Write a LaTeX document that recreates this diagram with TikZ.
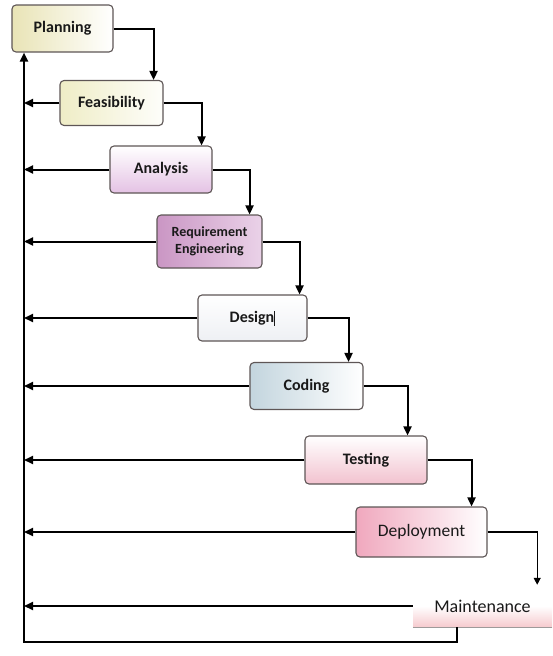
\documentclass[tikz,border=0pt]{standalone}
\usepackage{fontspec}
\setmainfont{Carlito}
\usetikzlibrary{arrows.meta,calc}

\definecolor{boxline}{HTML}{5E5656}
\definecolor{tintplan}{HTML}{E9E4B6}
\definecolor{tintfeas}{HTML}{EFEDC6}
\definecolor{tintanal}{HTML}{E4C2E4}
\definecolor{tintreq}{HTML}{CA96C4}
\definecolor{tintreqlight}{HTML}{EAD2E8}
\definecolor{tintdes}{HTML}{EEF0F4}
\definecolor{tintcod}{HTML}{C3D5DE}
\definecolor{tinttes}{HTML}{F2C2CF}
\definecolor{tintdep}{HTML}{F0A8BE}
\definecolor{tintmai}{HTML}{F6CACE}

\tikzset{
  phase/.style={draw=boxline, line width=1.1pt, rounded corners=4pt,
    inner sep=2pt, align=center, text=black!90,
    font=\fontsize{16}{18}\selectfont\bfseries},
  link/.style={line width=2pt, -{Triangle[length=9pt,width=8pt]}},
  back/.style={line width=2pt, -{Triangle[length=9pt,width=8pt]}},
  thinlink/.style={line width=1.2pt, -{Triangle[length=7pt,width=7pt]}},
}

\begin{document}
\begin{tikzpicture}[x=1pt,y=-1pt]
  \useasboundingbox (0,0) rectangle (552,656);

  % phases of the life cycle
  \node[phase, minimum width=101pt, minimum height=47pt,
        left color=tintplan, right color=white] (plan) at (62.5,28.5) {Planning};
  \node[phase, minimum width=103pt, minimum height=45pt,
        left color=tintfeas, right color=white!92!tintfeas] (feas) at (111.5,103) {Feasibility};
  \node[phase, minimum width=102pt, minimum height=47pt,
        bottom color=tintanal, top color=white] (anal) at (161,169.5) {Analysis};
  \node[phase, minimum width=105pt, minimum height=53pt,
        left color=tintreq, right color=tintreqlight,
        font=\fontsize{14}{16.5}\selectfont\bfseries] (req) at (209.5,241.5) {Requirement\\Engineering};
  \node[phase, minimum width=109pt, minimum height=46pt,
        bottom color=tintdes, top color=white] (des) at (252.5,318)
        {Design\rule[-3pt]{1pt}{15pt}};
  \node[phase, minimum width=113pt, minimum height=47pt,
        left color=tintcod, right color=white] (cod) at (306.5,386) {Coding};
  \node[phase, minimum width=122pt, minimum height=48pt,
        bottom color=tinttes, top color=white] (tes) at (366,460) {Testing};
  \node[phase, minimum width=131pt, minimum height=50pt,
        left color=tintdep, right color=white,
        font=\fontsize{17.5}{20}\selectfont] (dep) at (421.5,532) {Deployment};
  \node[inner sep=2pt, minimum width=139pt, minimum height=42pt,
        bottom color=tintmai, top color=white, middle color=white,
        font=\fontsize{18}{20}\selectfont, text=black!90] (mai) at (482.5,606) {Maintenance};
  \draw[boxline!60, line width=0.8pt] (mai.south west) -- (mai.south east);

  % forward flow from each phase to the next
  \draw[link] (plan.east) -| ($(feas.north east)+(-10,0)$);
  \draw[link] (feas.east) -| ($(anal.north east)+(-11,0)$);
  \draw[link] (anal.east) -| ($(req.north east)+(-13,0)$);
  \draw[link] (req.east)  -| ($(des.north east)+(-8,0)$);
  \draw[link] (des.east)  -| ($(cod.north east)+(-15,0)$);
  \draw[link] (cod.east)  -| ($(tes.north east)+(-20,0)$);
  \draw[link] (tes.east)  -| ($(dep.north east)+(-16,0)$);
  \draw[thinlink] (dep.east) -| ($(mai.north east)+(-15,0)$);

  % feedback rail on the left
  \coordinate (rail) at (24,0);
  \coordinate (loop) at (24,642);
  \foreach \n in {feas,anal,req,des,cod,tes,dep,mai}
    \draw[back] (\n.west) -- (\n.west -| rail);
  \draw[back] ($(mai.south west)+(44,0)$) |- (loop) -- (plan.south -| loop);
\end{tikzpicture}
\end{document}
